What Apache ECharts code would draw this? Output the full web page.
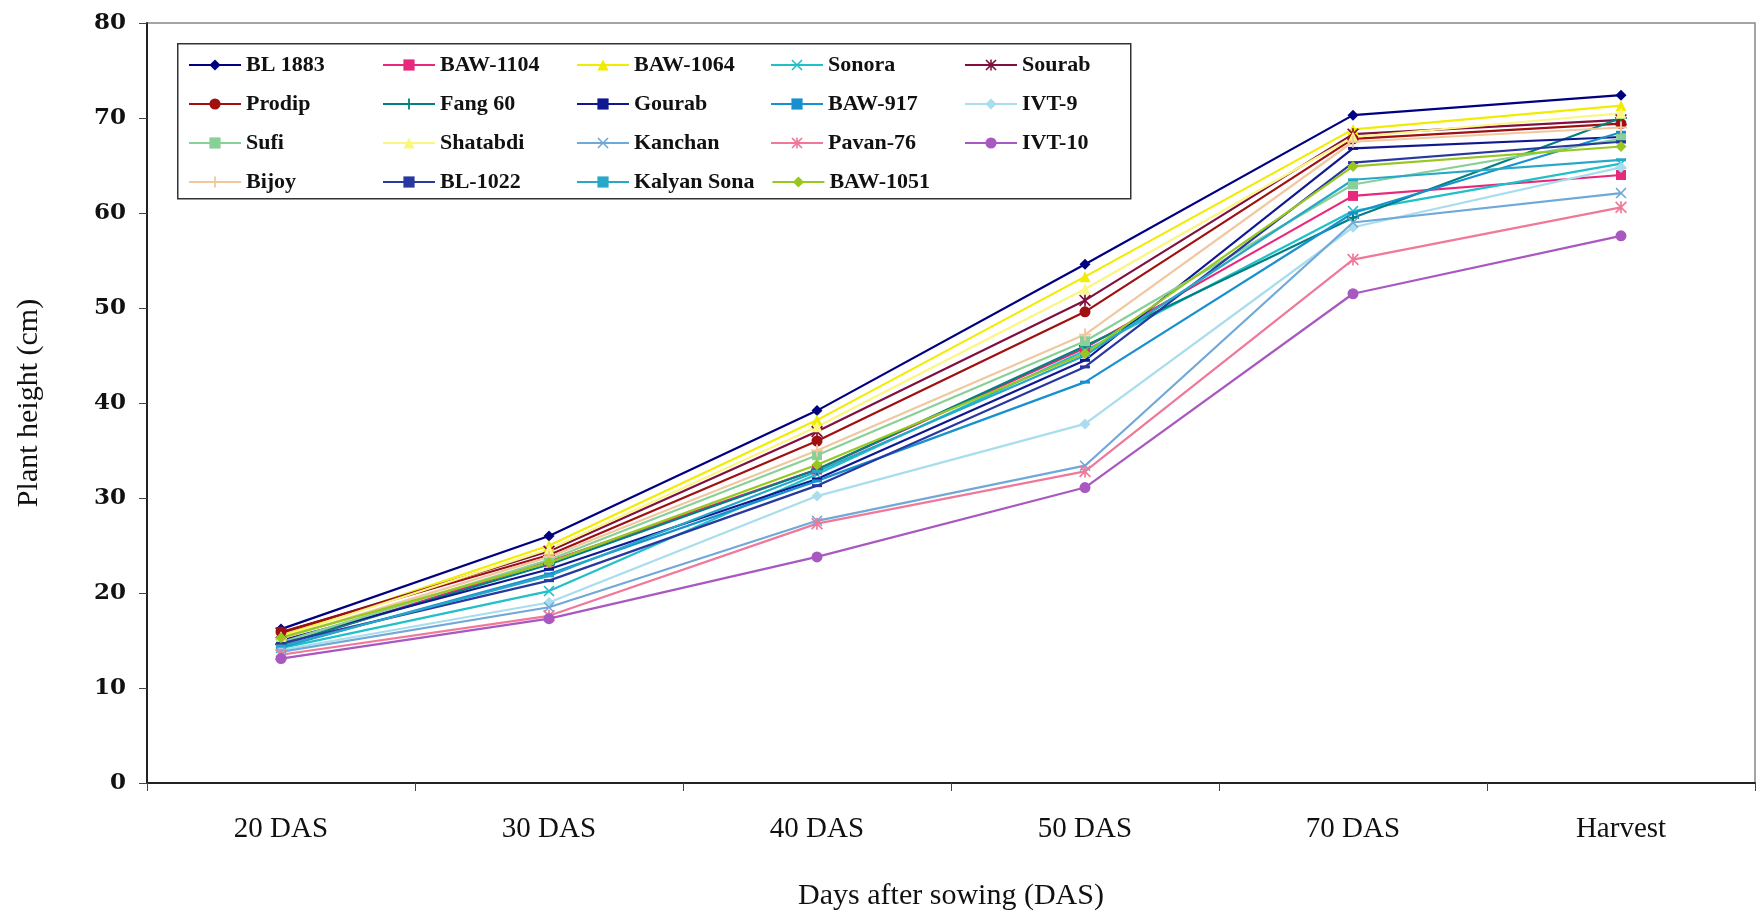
<!DOCTYPE html>
<html>
<head>
<meta charset="utf-8">
<script src="https://cdn.jsdelivr.net/npm/echarts@6/dist/echarts.min.js"></script>
<style>
html,body{margin:0;padding:0;background:#fff;}
#c{width:1758px;height:917px;}
</style>
</head>
<body>
<div id="c"></div>
<script>
var categories = ['20 DAS', '30 DAS', '40 DAS', '50 DAS', '70 DAS', 'Harvest'];

var BL1883     = [16.2, 26.0, 39.2, 54.6, 70.3, 72.4];
var BAW1104    = [14.5, 23.3, 33.0, 45.8, 61.8, 64.0];
var BAW1064    = [15.5, 25.0, 38.2, 53.3, 68.8, 71.3];
var Sonora     = [14.2, 20.2, 32.5, 45.5, 60.2, 65.2];
var Sourab     = [15.8, 24.4, 37.0, 50.8, 68.3, 69.8];
var Prodip     = [15.9, 24.0, 36.0, 49.6, 67.8, 69.4];
var Fang60     = [14.6, 23.0, 33.0, 46.0, 59.5, 70.0];
var Gourab     = [15.0, 22.5, 32.0, 44.5, 66.8, 68.0];
var BAW917     = [14.3, 22.0, 31.8, 42.2, 60.0, 68.5];
var IVT9       = [14.0, 19.0, 30.2, 37.8, 58.5, 64.8];
var Sufi       = [14.8, 23.5, 34.5, 46.5, 63.0, 67.8];
var Shatabdi   = [15.4, 24.6, 37.5, 52.0, 68.0, 70.5];
var Kanchan    = [13.8, 18.5, 27.6, 33.4, 59.0, 62.1];
var Pavan76    = [13.5, 17.6, 27.3, 32.8, 55.1, 60.6];
var IVT10      = [13.1, 17.3, 23.8, 31.1, 51.5, 57.6];
var Bijoy      = [15.2, 23.8, 35.0, 47.2, 67.5, 69.0];
var BL1022     = [14.7, 21.3, 31.3, 43.8, 65.3, 67.5];
var KalyanSona = [14.4, 21.8, 32.8, 45.0, 63.5, 65.6];
var BAW1051    = [15.3, 23.2, 33.5, 45.2, 64.9, 67.0];

var yTicks = [0, 10, 20, 30, 40, 50, 60, 70, 80];

var X = 'path://M0,1 L1,0 L5,4 L9,0 L10,1 L6,5 L10,9 L9,10 L5,6 L1,10 L0,9 L4,5 Z';
var PLUS = 'path://M4.2,0 H5.8 V4.2 H10 V5.8 H5.8 V10 H4.2 V5.8 H0 V4.2 H4.2 Z';
var STAR = 'path://M0,1 L1,0 L4.3,3.3 L4.3,0 L5.7,0 L5.7,3.3 L9,0 L10,1 L6,5 L10,9 L9,10 L5.7,6.7 L5.7,10 L4.3,10 L4.3,6.7 L1,10 L0,9 L4,5 Z';
var DASH = 'rect';

var seriesDefs = [
  ['BL 1883', BL1883, '#000080', 'diamond', 11],
  ['BAW-1104', BAW1104, '#E8287A', 'rect', 10],
  ['BAW-1064', BAW1064, '#F2EC00', 'triangle', 11],
  ['Sonora', Sonora, '#20C0C8', X, 11],
  ['Sourab', Sourab, '#801040', STAR, 12],
  ['Prodip', Prodip, '#A01010', 'circle', 11],
  ['Fang 60', Fang60, '#008080', PLUS, 12],
  ['Gourab', Gourab, '#101890', DASH, [10, 3]],
  ['BAW-917', BAW917, '#1890D0', DASH, [10, 3]],
  ['IVT-9', IVT9, '#A8DDEE', 'diamond', 11],
  ['Sufi', Sufi, '#88D098', 'rect', 10],
  ['Shatabdi', Shatabdi, '#FAF680', 'triangle', 11],
  ['Kanchan', Kanchan, '#70A8D8', X, 11],
  ['Pavan-76', Pavan76, '#F07898', STAR, 12],
  ['IVT-10', IVT10, '#A858C0', 'circle', 11],
  ['Bijoy', Bijoy, '#F0C8A0', PLUS, 12],
  ['BL-1022', BL1022, '#2838A0', DASH, [10, 3]],
  ['Kalyan Sona', KalyanSona, '#28A8C8', DASH, [10, 3]],
  ['BAW-1051', BAW1051, '#98C820', 'diamond', 11]
];

var series = seriesDefs.map(function (d) {
  return {
    name: d[0],
    type: 'line',
    data: d[1],
    symbol: d[3],
    symbolSize: d[4],
    showAllSymbol: true,
    lineStyle: { color: d[2], width: 2.2 },
    itemStyle: { color: d[2] },
    emphasis: { disabled: true },
    animation: false
  };
});

var FONT = '"Liberation Serif", "DejaVu Serif", serif';

var chart = echarts.init(document.getElementById('c'), null, { renderer: 'canvas' });
chart.setOption({
  backgroundColor: '#ffffff',
  animation: false,
  grid: {
    left: 147, right: 3, top: 23, bottom: 134,
    show: true, borderColor: '#888', borderWidth: 1.5, backgroundColor: 'transparent'
  },
  graphic: [{
    type: 'rect', left: 177, top: 43, z: 0, silent: true,
    shape: { width: 953, height: 155 },
    style: { fill: '#fff', stroke: '#333', lineWidth: 1.5 }
  }],
  legend: {
    data: seriesDefs.map(function (d) { return d[0]; }),
    left: 177, top: 43, width: 960,
    orient: 'horizontal',
    padding: [11, 0, 13, 11],
    itemGap: 17,
    itemWidth: 52, itemHeight: 14,
    textStyle: { fontFamily: FONT, fontSize: 22, fontWeight: 'bold', color: '#111', width: 119, overflow: 'none', lineHeight: 20 }
  },
  xAxis: {
    type: 'category',
    data: categories,
    boundaryGap: true,
    name: 'Days after sowing (DAS)',
    nameLocation: 'middle',
    nameGap: 98,
    nameTextStyle: { fontFamily: FONT, fontSize: 30, color: '#111', verticalAlign: 'top' },
    axisLine: { lineStyle: { color: '#222', width: 2 } },
    axisTick: { show: true, length: 8, lineStyle: { color: '#444' } },
    axisLabel: { fontFamily: FONT, fontSize: 29, color: '#111', margin: 32 },
    splitLine: { show: false }
  },
  yAxis: {
    type: 'value',
    min: 0, max: 80, interval: 10,
    name: 'Plant height (cm)',
    nameLocation: 'middle',
    nameGap: 103,
    nameTextStyle: { fontFamily: FONT, fontSize: 30, color: '#111' },
    axisLine: { show: true, lineStyle: { color: '#222', width: 2 } },
    axisTick: { show: true, length: 8, inside: false, lineStyle: { color: '#444' } },
    axisLabel: { fontFamily: '"DejaVu Serif", serif', fontSize: 23, fontWeight: 'bold', color: '#111', margin: 21,
      formatter: function (v) { return yTicks.indexOf(v) >= 0 ? String(v) : ''; } },
    splitLine: { show: false }
  },
  series: series
});
</script>
</body>
</html>
